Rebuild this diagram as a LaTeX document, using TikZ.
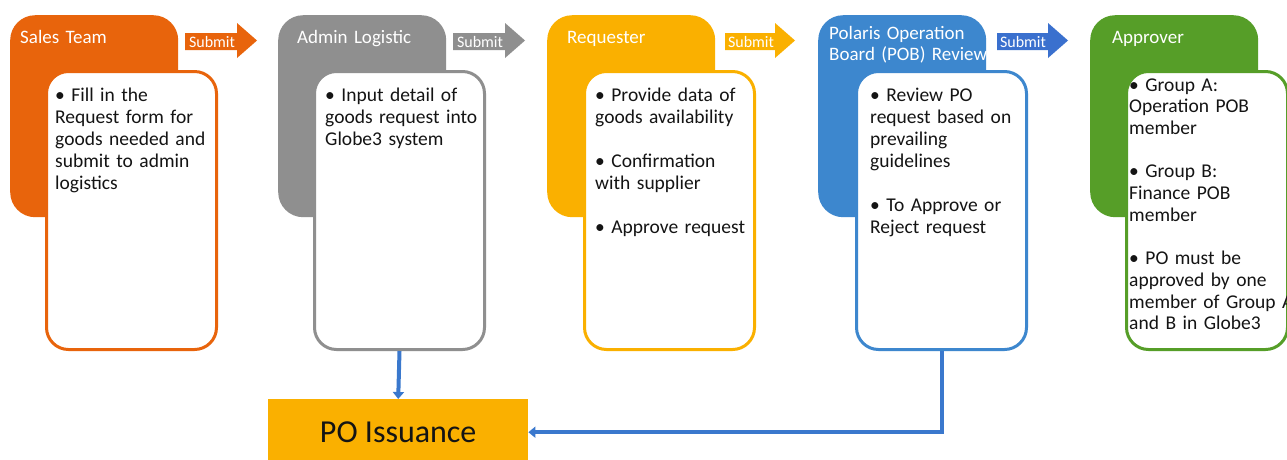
\documentclass[tikz,border=0pt]{standalone}
\usepackage{fontspec}
\setmainfont{Carlito}
\usetikzlibrary{arrows.meta}
\definecolor{cOrange}{RGB}{232,100,12}
\definecolor{cGray}{RGB}{143,143,143}
\definecolor{cYellow}{RGB}{250,176,0}
\definecolor{cBlue}{RGB}{61,135,206}
\definecolor{cBlueArrow}{RGB}{58,112,206}
\definecolor{cGreen}{RGB}{86,158,40}
\definecolor{cLine}{RGB}{58,120,205}
\definecolor{cText}{RGB}{20,20,20}
\tikzset{
  hdr/.style={fill=#1, rounded corners=25pt, minimum width=168pt, minimum height=202pt, anchor=north west, inner sep=0pt},
  bodybox/.style={draw=#1, fill=white, line width=3pt, rounded corners=22pt, minimum width=170pt, minimum height=278pt, anchor=north west, inner sep=0pt},
  title/.style={text=white, anchor=base west, inner sep=0pt, text width=170pt, align=left, font=\fontsize{19}{21}\selectfont},
  bodytext/.style={text=cText, anchor=base west, inner sep=0pt, text width=175pt, align=left, font=\fontsize{19.5}{22}\selectfont},
  subtext/.style={text=white, anchor=base, inner sep=0pt, font=\fontsize{16}{18}\selectfont},
  conn/.style={draw=cLine, line width=4pt, -{Triangle[width=11pt,length=7pt]}},
}
\newcommand{\submitarrow}[4]{% x0, xh, x1, colour
  \fill[#4] (#1,33) -- (#2,33) -- (#2,23) -- (#3,40.5) -- (#2,58) -- (#2,50) -- (#1,50) -- cycle;
}
\begin{document}
\begin{tikzpicture}[x=1pt,y=-1pt]
\useasboundingbox (0,0) rectangle (1287,459);
\clip (0,0) rectangle (1287,459);
\fill[white] (0,0) rectangle (1287,459);

% column 1
\node[hdr=cOrange] (h1) at (10,15) {};
\node[title] (t1) at (20,43) {Sales Team};
\node[bodybox=cOrange] (b1) at (45,70) {};
\node[bodytext] (x1) at (55,101) {• Fill in the\\Request form for\\goods needed and\\submit to admin\\logistics};

% column 2
\node[hdr=cGray] (h2) at (278,15) {};
\node[title] (t2) at (297,43) {Admin Logistic};
\node[bodybox=cGray] (b2) at (313,70) {};
\node[bodytext] (x2) at (325,101) {• Input detail of\\goods request into\\Globe3 system};

% column 3
\node[hdr=cYellow] (h3) at (547,15) {};
\node[title] (t3) at (567,43) {Requester};
\node[bodybox=cYellow] (b3) at (583,70) {};
\node[bodytext] (x3) at (595,101) {• Provide data of\\goods availability\\[22pt]• Confirmation\\with supplier\\[22pt]• Approve request};

% column 4
\node[hdr=cBlue] (h4) at (818,15) {};
\node[title] (t4) at (829,39) {Polaris Operation\\Board (POB) Review};
\node[bodybox=cBlue] (b4) at (855,70) {};
\node[bodytext] (x4) at (870,101) {• Review PO\\request based on\\prevailing\\guidelines\\[22pt]• To Approve or\\Reject request};

% column 5
\node[hdr=cGreen] (h5) at (1090,15) {};
\node[title] (t5) at (1112,43) {Approver};
\node[bodybox=cGreen, minimum width=161pt] (b5) at (1125,70) {};
\node[bodytext, font=\fontsize{19.5}{21.7}\selectfont] (x5) at (1129,91) {• Group A:\\Operation POB\\member\\[21.7pt]• Group B:\\Finance POB\\member\\[21.7pt]• PO must be\\approved by one\\member of Group A\\and B in Globe3};

% submit arrows
\submitarrow{185}{237}{257}{cOrange}
\node[subtext] (s1) at (212,47) {Submit};
\submitarrow{453}{505}{525}{cGray}
\node[subtext] (s2) at (480,47) {Submit};
\submitarrow{725}{775}{795}{cYellow}
\node[subtext] (s3) at (751,47) {Submit};
\submitarrow{997}{1048}{1068}{cBlueArrow}
\node[subtext] (s4) at (1023,47) {Submit};

% PO issuance
\node[fill=cYellow, minimum width=260pt, minimum height=66pt, anchor=north west, inner sep=0pt, font=\fontsize{32}{36}\selectfont, text=cText] (po) at (268,399) {PO Issuance};

% connectors
\draw[conn] (b2.south) -- (po.north);
\draw[conn] (b4.south) |- (po.east);
\end{tikzpicture}
\end{document}
